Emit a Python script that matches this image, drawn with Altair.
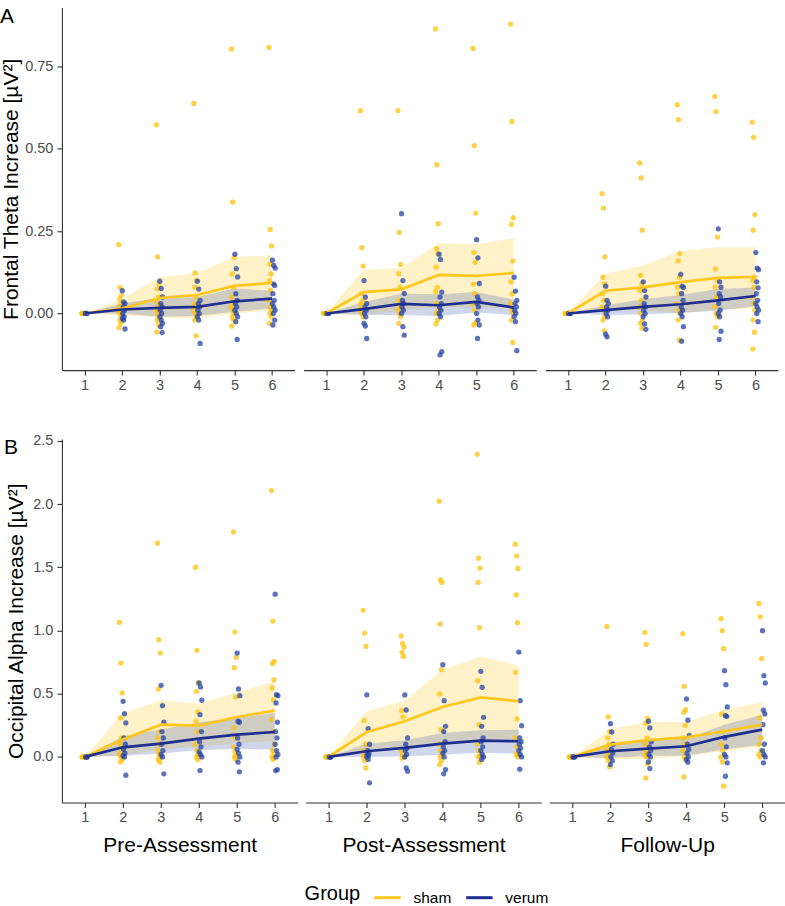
import altair as alt
import pandas as pd

FONT = "Liberation Sans"
SESSIONS = ["Pre-Assessment", "Post-Assessment", "Follow-Up"]
GROUPS = ["sham", "verum"]
TIMES = [1, 2, 3, 4, 5, 6]

# ---- single-subject increases at blocks 2..6 (block 1 is the baseline, 0) ----
theta_pre_sham = [
    [0.209, 0.079, 0.056, 0.045, 0.03, 0.02, 0.012, 0.005, 0.0, -0.008, -0.02, -0.03, -0.043],
    [0.573, 0.172, 0.09, 0.075, 0.05, 0.035, 0.02, 0.01, 0.0, -0.01, -0.02, -0.035, -0.056],
    [0.638, 0.123, 0.1, 0.08, 0.05, 0.03, 0.02, 0.01, 0.0, -0.01, -0.02, -0.068],
    [0.803, 0.338, 0.17, 0.12, 0.08, 0.05, 0.03, 0.02, 0.01, 0.0, -0.01, -0.02, -0.038],
    [0.808, 0.255, 0.205, 0.15, 0.12, 0.1, 0.07, 0.04, 0.02, 0.01, 0.0, -0.01, -0.03],
]
theta_pre_verum = [
    [0.069, 0.035, 0.03, 0.02, 0.01, 0.0, -0.01, -0.015, -0.02, -0.047],
    [0.098, 0.076, 0.05, 0.03, 0.02, 0.01, 0.0, -0.01, -0.02, -0.03, -0.04, -0.058],
    [0.098, 0.074, 0.04, 0.03, 0.02, 0.01, 0.0, -0.01, -0.02, -0.091],
    [0.18, 0.136, 0.111, 0.06, 0.04, 0.03, 0.02, 0.01, 0.0, -0.01, -0.025, -0.079],
    [0.162, 0.146, 0.138, 0.09, 0.085, 0.06, 0.04, 0.03, 0.02, 0.01, 0.0, -0.02, -0.035],
]
theta_post_sham = [
    [0.616, 0.2, 0.144, 0.06, 0.04, 0.03, 0.02, 0.01, 0.0, -0.01],
    [0.616, 0.246, 0.149, 0.121, 0.08, 0.04, 0.02, 0.01, 0.0, -0.01, -0.03],
    [0.864, 0.452, 0.273, 0.197, 0.182, 0.141, 0.079, 0.066, 0.03, 0.01, 0.0, -0.02, -0.032],
    [0.805, 0.51, 0.305, 0.185, 0.155, 0.089, 0.06, 0.03, 0.01, -0.028, -0.035],
    [0.879, 0.583, 0.291, 0.271, 0.159, 0.096, 0.06, 0.03, 0.01, 0.0, -0.02, -0.088],
]
theta_post_verum = [
    [0.1, 0.05, 0.03, 0.02, 0.01, 0.0, -0.01, -0.03, -0.038, -0.076],
    [0.303, 0.1, 0.061, 0.04, 0.03, 0.02, 0.01, 0.0, -0.04, -0.066],
    [0.18, 0.164, 0.065, 0.05, 0.03, 0.02, 0.01, 0.0, -0.01, -0.116, -0.126],
    [0.224, 0.169, 0.091, 0.05, 0.04, 0.03, 0.02, 0.0, -0.02, -0.035, -0.076],
    [0.11, 0.068, 0.04, 0.03, 0.02, 0.01, 0.0, -0.01, -0.025, -0.113],
]
theta_follow_sham = [
    [0.364, 0.32, 0.172, 0.11, 0.09, 0.06, 0.04, 0.02, 0.01, -0.01, -0.02, -0.053],
    [0.457, 0.412, 0.253, 0.116, 0.09, 0.07, 0.04, 0.02, 0.0, -0.02, -0.03, -0.045],
    [0.634, 0.589, 0.182, 0.16, 0.11, 0.08, 0.06, 0.03, 0.01, 0.0, -0.02, -0.081],
    [0.659, 0.613, 0.232, 0.135, 0.1, 0.08, 0.05, 0.02, 0.0, -0.01, -0.042],
    [0.581, 0.535, 0.3, 0.253, 0.11, 0.1, 0.08, 0.05, 0.03, 0.01, -0.02, -0.057, -0.108],
]
theta_follow_verum = [
    [0.083, 0.04, 0.03, 0.02, 0.01, 0.0, -0.01, -0.063, -0.071],
    [0.096, 0.07, 0.05, 0.03, 0.02, 0.01, 0.0, -0.01, -0.032, -0.048],
    [0.119, 0.083, 0.079, 0.06, 0.04, 0.02, 0.01, 0.0, -0.01, -0.04, -0.084],
    [0.257, 0.096, 0.08, 0.06, 0.05, 0.03, 0.01, 0.0, -0.01, -0.054, -0.079],
    [0.185, 0.138, 0.133, 0.096, 0.078, 0.06, 0.04, 0.03, 0.02, 0.01, 0.0, -0.025],
]
alpha_pre_sham = [
    [1.064, 0.742, 0.506, 0.308, 0.15, 0.1, 0.05, 0.02, 0.0, -0.02, -0.04],
    [1.69, 0.927, 0.821, 0.537, 0.2, 0.15, 0.1, 0.05, 0.02, 0.0, -0.02, -0.042],
    [1.5, 0.843, 0.585, 0.519, 0.355, 0.282, 0.2, 0.1, 0.05, 0.02, 0.0, -0.02],
    [1.78, 0.987, 0.787, 0.706, 0.474, 0.23, 0.15, 0.08, 0.04, 0.01, 0.0, -0.02],
    [2.106, 1.074, 0.756, 0.737, 0.611, 0.545, 0.453, 0.295, 0.2, 0.1, 0.05, 0.02, 0.0, -0.02],
]
alpha_pre_verum = [
    [0.44, 0.342, 0.269, 0.15, 0.1, 0.06, 0.03, 0.01, 0.0, -0.145],
    [0.566, 0.405, 0.274, 0.2, 0.15, 0.1, 0.05, 0.02, 0.0, -0.134],
    [0.585, 0.553, 0.448, 0.334, 0.2, 0.12, 0.08, 0.04, 0.02, 0.0, -0.108],
    [0.821, 0.537, 0.484, 0.282, 0.274, 0.15, 0.1, 0.06, 0.03, 0.0, -0.042, -0.118],
    [1.287, 0.492, 0.484, 0.427, 0.274, 0.2, 0.15, 0.1, 0.05, 0.02, 0.0, -0.1, -0.108],
]
alpha_post_sham = [
    [1.159, 0.979, 0.874, 0.287, 0.1, 0.05, 0.02, 0.0, -0.03, -0.087],
    [0.956, 0.898, 0.869, 0.827, 0.795, 0.366, 0.316, 0.05, 0.02, 0.0, -0.01],
    [2.022, 1.401, 1.38, 1.051, 0.69, 0.498, 0.216, 0.1, 0.05, 0.02, 0.0, -0.03, -0.061],
    [2.393, 1.572, 1.493, 1.38, 1.022, 0.603, 0.255, 0.1, 0.05, 0.01, 0.0, -0.042],
    [1.682, 1.59, 1.49, 1.282, 1.061, 0.669, 0.3, 0.15, 0.08, 0.04, 0.02, 0.0],
]
alpha_post_verum = [
    [0.49, 0.224, 0.1, 0.05, 0.03, 0.02, 0.01, 0.0, -0.02, -0.205],
    [0.49, 0.371, 0.15, 0.1, 0.07, 0.05, 0.02, 0.0, -0.087, -0.113],
    [0.729, 0.445, 0.242, 0.2, 0.12, 0.08, 0.05, 0.03, 0.0, -0.1, -0.134],
    [0.677, 0.55, 0.313, 0.242, 0.15, 0.12, 0.08, 0.05, 0.02, 0.0, -0.02],
    [0.829, 0.445, 0.247, 0.15, 0.12, 0.1, 0.07, 0.05, 0.02, 0.0, -0.097],
]
alpha_follow_sham = [
    [1.032, 0.316, 0.2, 0.15, 0.1, 0.06, 0.03, 0.0, -0.03, -0.079],
    [0.985, 0.89, 0.305, 0.269, 0.15, 0.1, 0.05, 0.02, 0.0, -0.055, -0.166],
    [0.974, 0.558, 0.374, 0.353, 0.25, 0.15, 0.1, 0.05, 0.0, -0.02, -0.158],
    [1.093, 0.998, 0.856, 0.34, 0.2, 0.1, 0.05, 0.0, -0.04, -0.232],
    [1.214, 1.108, 0.777, 0.308, 0.15, 0.1, 0.05, 0.02, 0.0],
]
alpha_follow_verum = [
    [0.263, 0.197, 0.1, 0.06, 0.03, 0.0, -0.03, -0.061],
    [0.282, 0.229, 0.12, 0.08, 0.05, 0.02, 0.0, -0.04, -0.092],
    [0.458, 0.29, 0.17, 0.1, 0.06, 0.03, 0.0, -0.02, -0.042],
    [0.682, 0.571, 0.395, 0.326, 0.321, 0.15, 0.08, 0.02, 0.0, -0.047, -0.153],
    [0.998, 0.642, 0.585, 0.369, 0.34, 0.255, 0.1, 0.05, 0.02, 0.0, -0.047],
]

# ---- group means and confidence bands over blocks 1..6 ----
theta_pre_sham_mean = [0, 0.015, 0.047, 0.056, 0.084, 0.093]
theta_pre_sham_lo = [0, -0.005, -0.012, -0.015, 0.0, 0.01]
theta_pre_sham_hi = [0, 0.045, 0.111, 0.123, 0.172, 0.177]
theta_pre_verum_mean = [0, 0.012, 0.017, 0.02, 0.037, 0.045]
theta_pre_verum_lo = [0, 0.0, -0.01, -0.008, 0.005, 0.015]
theta_pre_verum_hi = [0, 0.03, 0.047, 0.05, 0.076, 0.069]

theta_post_sham_mean = [0, 0.065, 0.073, 0.117, 0.114, 0.123]
theta_post_sham_lo = [0, -0.003, 0.008, 0.02, 0.018, 0.017]
theta_post_sham_hi = [0, 0.133, 0.138, 0.214, 0.21, 0.229]
theta_post_verum_mean = [0, 0.013, 0.029, 0.025, 0.035, 0.018]
theta_post_verum_lo = [0, -0.005, -0.005, -0.008, 0.003, -0.005]
theta_post_verum_hi = [0, 0.035, 0.06, 0.058, 0.065, 0.042]

theta_follow_sham_mean = [0, 0.069, 0.079, 0.095, 0.108, 0.111]
theta_follow_sham_lo = [0, 0.012, 0.01, 0.0, 0.012, 0.015]
theta_follow_sham_hi = [0, 0.121, 0.146, 0.19, 0.201, 0.201]
theta_follow_verum_mean = [0, 0.01, 0.02, 0.028, 0.04, 0.053]
theta_follow_verum_lo = [0, -0.005, -0.003, 0.002, 0.008, 0.022]
theta_follow_verum_hi = [0, 0.025, 0.043, 0.056, 0.074, 0.079]

alpha_pre_sham_mean = [0, 0.137, 0.255, 0.248, 0.316, 0.366]
alpha_pre_sham_lo = [0, 0.01, 0.06, 0.08, 0.11, 0.125]
alpha_pre_sham_hi = [0, 0.348, 0.448, 0.421, 0.511, 0.598]
alpha_pre_verum_mean = [0, 0.076, 0.105, 0.145, 0.176, 0.197]
alpha_pre_verum_lo = [0, 0.01, 0.026, 0.053, 0.063, 0.058]
alpha_pre_verum_hi = [0, 0.163, 0.216, 0.274, 0.308, 0.348]

alpha_post_sham_mean = [0, 0.195, 0.282, 0.395, 0.471, 0.44]
alpha_post_sham_lo = [0, 0.03, 0.08, 0.11, 0.137, 0.137]
alpha_post_sham_hi = [0, 0.361, 0.445, 0.69, 0.795, 0.724]
alpha_post_verum_mean = [0, 0.045, 0.071, 0.105, 0.129, 0.124]
alpha_post_verum_lo = [0, 0.0, 0.005, 0.018, 0.032, 0.026]
alpha_post_verum_hi = [0, 0.105, 0.132, 0.19, 0.211, 0.216]

alpha_follow_sham_mean = [0, 0.097, 0.132, 0.155, 0.203, 0.255]
alpha_follow_sham_lo = [0, -0.016, -0.016, 0.01, 0.045, 0.084]
alpha_follow_sham_hi = [0, 0.221, 0.276, 0.274, 0.374, 0.432]
alpha_follow_verum_mean = [0, 0.045, 0.066, 0.084, 0.158, 0.216]
alpha_follow_verum_lo = [0, -0.008, 0.01, 0.01, 0.058, 0.097]
alpha_follow_verum_hi = [0, 0.111, 0.137, 0.142, 0.255, 0.334]

RAW = {
    ("theta", 0): (theta_pre_sham, theta_pre_verum),
    ("theta", 1): (theta_post_sham, theta_post_verum),
    ("theta", 2): (theta_follow_sham, theta_follow_verum),
    ("alpha", 0): (alpha_pre_sham, alpha_pre_verum),
    ("alpha", 1): (alpha_post_sham, alpha_post_verum),
    ("alpha", 2): (alpha_follow_sham, alpha_follow_verum),
}
SUMMARY = {
    ("theta", 0): ((theta_pre_sham_mean, theta_pre_sham_lo, theta_pre_sham_hi),
                   (theta_pre_verum_mean, theta_pre_verum_lo, theta_pre_verum_hi)),
    ("theta", 1): ((theta_post_sham_mean, theta_post_sham_lo, theta_post_sham_hi),
                   (theta_post_verum_mean, theta_post_verum_lo, theta_post_verum_hi)),
    ("theta", 2): ((theta_follow_sham_mean, theta_follow_sham_lo, theta_follow_sham_hi),
                   (theta_follow_verum_mean, theta_follow_verum_lo, theta_follow_verum_hi)),
    ("alpha", 0): ((alpha_pre_sham_mean, alpha_pre_sham_lo, alpha_pre_sham_hi),
                   (alpha_pre_verum_mean, alpha_pre_verum_lo, alpha_pre_verum_hi)),
    ("alpha", 1): ((alpha_post_sham_mean, alpha_post_sham_lo, alpha_post_sham_hi),
                   (alpha_post_verum_mean, alpha_post_verum_lo, alpha_post_verum_hi)),
    ("alpha", 2): ((alpha_follow_sham_mean, alpha_follow_sham_lo, alpha_follow_sham_hi),
                   (alpha_follow_verum_mean, alpha_follow_verum_lo, alpha_follow_verum_hi)),
}

LINE_COLORS = ["#FFC61E", "#1F2F8F"]
FILL_COLORS = {"sham": "#FFC20A", "verum": "#2444A6"}
DODGE = {"sham": -0.05, "verum": 0.045}


def points_frame(key):
    rows = []
    for g, series in zip(GROUPS, RAW[key]):
        for k in range(4):
            rows.append({"group": g, "fc": FILL_COLORS[g], "time": 1, "val": 0.0,
                         "xj": 1 + DODGE[g] + ((k * 3) % 5 - 2) * 0.01})
        for t, vals in zip(TIMES[1:], series):
            for k, v in enumerate(vals):
                jit = ((k * 3) % 7 - 3) * 0.012
                rows.append({"group": g, "fc": FILL_COLORS[g], "time": t, "val": v,
                             "xj": t + DODGE[g] + jit})
    return pd.DataFrame(rows)


def summary_frame(key):
    rows = []
    for g, (m, lo, hi) in zip(GROUPS, SUMMARY[key]):
        for t, a, b, c in zip(TIMES, m, lo, hi):
            rows.append({"group": g, "fc": FILL_COLORS[g], "time": t,
                         "mean": a, "lo": b, "hi": c})
    return pd.DataFrame(rows)


stroke_scale = alt.Scale(domain=GROUPS, range=LINE_COLORS)
legend = alt.Legend(
    orient="none", legendX=243, legendY=876, direction="horizontal",
    title="Group", titleOrient="left", titleAnchor="middle", titleBaseline="middle",
    titleFont=FONT, titleFontSize=20, titleFontWeight="normal", titleColor="black",
    titlePadding=12,
    labelFont=FONT, labelFontSize=15.5, labelColor="black", labelOffset=11,
    symbolType="stroke", symbolStrokeWidth=3, symbolSize=700, columnPadding=8,
)


def panel(row, col):
    key = (row, col)
    top = row == "theta"
    width = 233 if top else 236
    height = 363 if top else 364
    ydom = [-0.172, 0.929] if top else [-0.361, 2.514]
    xscale = alt.Scale(domain=[0.4, 6.6], nice=False, zero=False)
    yscale = alt.Scale(domain=ydom, nice=False, zero=False)

    if top:
        xaxis = alt.Axis(values=TIMES, format="d", title=None, labelFlush=False)
    else:
        xaxis = alt.Axis(values=TIMES, format="d", title=SESSIONS[col], labelFlush=False,
                         titlePadding=11, titleFontSize=21)
    if col == 0:
        if top:
            yaxis = alt.Axis(values=[0, 0.25, 0.5, 0.75], format=".2f", labelPadding=4,
                             title="Frontal Theta Increase [µV²]", titlePadding=3)
        else:
            yaxis = alt.Axis(values=[0, 0.5, 1.0, 1.5, 2.0, 2.5], format=".1f", labelPadding=4,
                             title="Occipital Alpha Increase [µV²]", titlePadding=6)
    else:
        yaxis = None

    summ = summary_frame(key)
    pts = points_frame(key)

    ribbons = alt.Chart(summ).mark_area(opacity=0.22).encode(
        x=alt.X("time:Q", scale=xscale, axis=xaxis),
        y=alt.Y("lo:Q", scale=yscale, axis=yaxis),
        y2="hi:Q",
        fill=alt.Fill("fc:N", scale=None),
        detail="group:N",
    )
    dots = alt.Chart(pts).mark_circle(size=28, opacity=0.75).encode(
        x=alt.X("xj:Q", scale=xscale),
        y=alt.Y("val:Q", scale=yscale),
        fill=alt.Fill("fc:N", scale=None),
    )
    lines = alt.Chart(summ).mark_line(strokeWidth=2.7).encode(
        x=alt.X("time:Q", scale=xscale),
        y=alt.Y("mean:Q", scale=yscale),
        stroke=alt.Stroke("group:N", scale=stroke_scale, legend=legend),
    )
    layers = [ribbons, dots, lines]
    if col == 0:
        tag = alt.Chart(pd.DataFrame({"t": ["A" if top else "B"]})).mark_text(
            align="left", baseline="top", font=FONT, fontSize=21, color="black"
        ).encode(
            x=alt.value(-62 if top else -58),
            y=alt.value(-2),
            text="t:N",
        )
        layers.append(tag)
    return alt.layer(*layers).properties(width=width, height=height)


top_row = alt.hconcat(*[panel("theta", c) for c in range(3)], spacing=9)
bottom_row = alt.hconcat(*[panel("alpha", c) for c in range(3)], spacing=8)

chart = alt.vconcat(top_row, bottom_row, spacing=40).properties(
    padding={"left": 0, "top": 5, "right": 0, "bottom": 0},
    background="white",
).configure_view(stroke=None).configure_axis(
    grid=False,
    domainColor="#333333", domainWidth=1.1,
    tickColor="#333333", tickWidth=1.1, tickSize=5,
    labelFont=FONT, labelFontSize=14.5, labelColor="#4D4D4D", labelPadding=3,
    titleFont=FONT, titleFontSize=21, titleColor="black", titleFontWeight="normal",
)

chart.save("out.html", embed_options={"renderer": "svg", "actions": False})
